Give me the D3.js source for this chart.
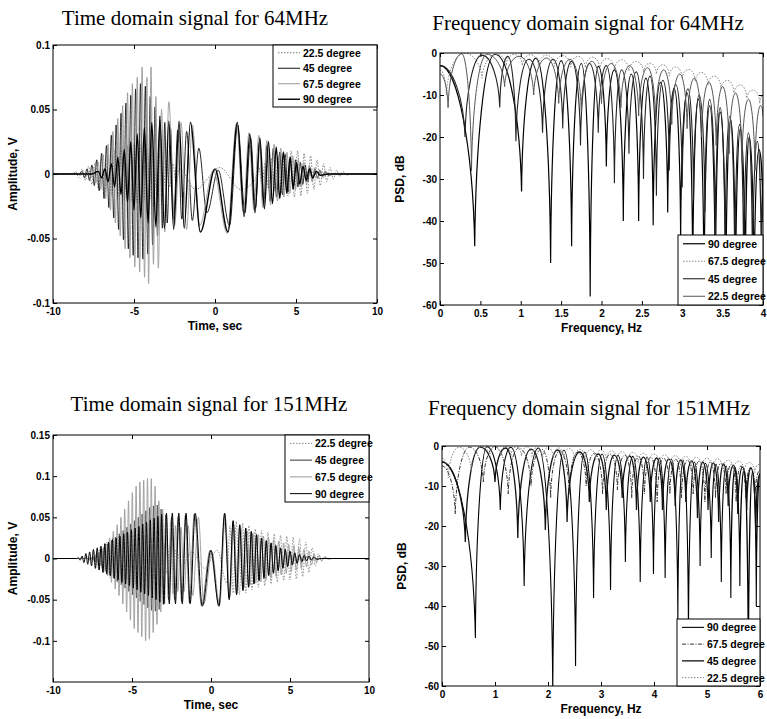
<!DOCTYPE html>
<html>
<head>
<meta charset="utf-8">
<script src="https://cdnjs.cloudflare.com/ajax/libs/d3/7.8.5/d3.min.js"></script>
<style>
  body { margin: 0; background: #fff; }
  svg text { font-family: "Liberation Sans", Arial, sans-serif; }
  .title { font-family: "Liberation Serif", "Times New Roman", serif; font-size: 21px; }
  .tick text { font-weight: bold; font-size: 10px; }
  .axlabel { font-weight: bold; font-size: 12px; }
  .legtext { font-weight: bold; font-size: 10.5px; }
</style>
</head>
<body>
<svg id="chart" width="767" height="719"></svg>
<script>
// ---- tick labels ----
const timeTicks = [-10, -5, 0, 5, 10];
const amp64Ticks = [0.1, 0.05, 0, -0.05, -0.1];
const amp151Ticks = [0.15, 0.1, 0.05, 0, -0.05, -0.1];
const psdTicks = [0, -10, -20, -30, -40, -50, -60];
const freq64Ticks = [0, 0.5, 1, 1.5, 2, 2.5, 3, 3.5, 4];
const freq151Ticks = [0, 1, 2, 3, 4, 5, 6];

// ---- time domain 64MHz: local extrema [t, V] ----
const t22_64 = [[-10,0],[-8.8,0],[-8.6,0.002],[-8.4,-0.003],[-8.2,0.004],[-8.0,-0.005],[-7.8,0.006],[-7.6,-0.008],[-7.4,0.009],[-7.2,-0.011],[-7.0,0.012],[-6.8,-0.014],[-6.6,0.015],[-6.4,-0.017],[-6.2,0.018],[-6.0,-0.019],[-5.8,0.02],[-5.6,-0.021],[-5.4,0.022],[-5.2,-0.022],[-5.0,0.023],[-4.8,-0.022],[-4.6,0.022],[-4.4,-0.021],[-4.2,0.02],[-4.0,-0.019],[-3.8,0.018],[-3.6,-0.016],[-3.4,0.015],[-3.2,-0.013],[-3.0,0.011],[-2.8,-0.01],[-2.6,0.008],[-2.4,-0.007],[-2.2,0.004],[-1.2,-0.012],[0.3,0.005],[1.6,-0.012],[2.5,-0.004],[2.7,0.006],[2.9,-0.008],[3.1,0.009],[3.3,-0.011],[3.5,0.012],[3.7,-0.013],[3.9,0.014],[4.1,-0.015],[4.3,0.016],[4.5,-0.017],[4.7,0.018],[4.9,-0.018],[5.1,0.018],[5.3,-0.017],[5.5,0.016],[5.7,-0.015],[5.9,0.014],[6.1,-0.012],[6.3,0.011],[6.5,-0.009],[6.7,0.008],[6.9,-0.006],[7.1,0.005],[7.3,-0.004],[7.5,0.003],[7.7,-0.002],[7.9,0.002],[8.1,-0.001],[8.4,0],[10,0]];
const t45_64 = [[-10,0],[-8.4,0],[-8.2,0.002],[-8.05,-0.003],[-7.9,0.004],[-7.75,-0.005],[-7.6,0.007],[-7.45,-0.009],[-7.3,0.011],[-7.15,-0.013],[-7.0,0.016],[-6.85,-0.019],[-6.7,0.022],[-6.55,-0.026],[-6.4,0.03],[-6.25,-0.034],[-6.1,0.038],[-5.95,-0.043],[-5.8,0.047],[-5.65,-0.051],[-5.5,0.055],[-5.35,-0.058],[-5.2,0.061],[-5.05,-0.063],[-4.9,0.066],[-4.75,-0.065],[-4.6,0.07],[-4.45,-0.066],[-4.3,0.068],[-4.15,-0.062],[-4.0,0.06],[-3.85,-0.055],[-3.7,0.052],[-3.55,-0.048],[-3.4,0.045],[-3.25,-0.042],[-3.1,0.04],[-2.95,-0.038],[-2.75,0.036],[-2.55,-0.035],[-2.3,0.034],[-2.05,-0.035],[-1.75,0.033],[-1.4,-0.036],[-1.0,0.02],[-0.5,-0.03],[0.2,0.003],[0.9,-0.04],[1.4,0.038],[1.85,-0.03],[2.2,0.028],[2.5,-0.026],[2.75,0.025],[3.0,-0.024],[3.2,0.022],[3.4,-0.021],[3.6,0.02],[3.8,-0.018],[4.0,0.017],[4.17,-0.016],[4.34,0.015],[4.5,-0.014],[4.66,0.013],[4.82,-0.012],[4.97,0.011],[5.12,-0.01],[5.27,0.009],[5.42,-0.008],[5.57,0.007],[5.72,-0.006],[5.87,0.005],[6.02,-0.004],[6.17,0.004],[6.32,-0.003],[6.47,0.003],[6.62,-0.002],[6.8,0.002],[7,-0.001],[7.3,0],[10,0]];
const t67_64 = [[-10,0],[-8.0,0],[-7.8,0.002],[-7.65,-0.003],[-7.5,0.005],[-7.35,-0.007],[-7.2,0.009],[-7.05,-0.012],[-6.9,0.015],[-6.75,-0.019],[-6.6,0.023],[-6.45,-0.028],[-6.3,0.033],[-6.15,-0.038],[-6.0,0.043],[-5.85,-0.048],[-5.7,0.053],[-5.55,-0.058],[-5.4,0.063],[-5.25,-0.065],[-5.1,0.07],[-4.95,-0.072],[-4.8,0.075],[-4.65,-0.076],[-4.5,0.083],[-4.35,-0.08],[-4.2,0.075],[-4.1,-0.085],[-3.95,0.083],[-3.8,-0.07],[-3.65,0.06],[-3.5,-0.073],[-3.3,0.05],[-3.1,-0.045],[-2.85,0.056],[-2.5,-0.04],[-2.1,0.04],[-1.75,-0.043],[-1.4,0.038],[-0.95,-0.04],[-0.1,0.003],[0.75,-0.046],[1.33,0.039],[1.75,-0.03],[2.1,0.032],[2.4,-0.028],[2.7,0.03],[2.95,-0.026],[3.2,0.026],[3.43,-0.024],[3.65,0.023],[3.86,-0.021],[4.06,0.02],[4.25,-0.018],[4.44,0.017],[4.62,-0.015],[4.8,0.014],[4.97,-0.012],[5.14,0.011],[5.31,-0.01],[5.48,0.009],[5.65,-0.008],[5.82,0.007],[5.99,-0.006],[6.16,0.005],[6.33,-0.004],[6.5,0.003],[6.67,-0.003],[6.85,0.002],[7.05,-0.001],[7.4,0],[10,0]];
const t90_64 = [[-10,0],[-7.6,0],[-7.2,0.002],[-7.0,-0.003],[-6.8,0.004],[-6.6,-0.006],[-6.4,0.008],[-6.2,-0.01],[-6.0,0.013],[-5.8,-0.016],[-5.6,0.019],[-5.4,-0.022],[-5.2,0.025],[-5.0,-0.028],[-4.8,0.031],[-4.58,-0.034],[-4.36,0.036],[-4.13,-0.038],[-3.9,0.04],[-3.65,-0.041],[-3.4,0.042],[-3.12,-0.042],[-2.85,0.041],[-2.55,-0.043],[-2.22,0.041],[-1.9,-0.042],[-1.52,0.04],[-0.9,-0.045],[0,0.004],[0.8,-0.045],[1.38,0.04],[1.8,-0.033],[2.15,0.031],[2.47,-0.03],[2.77,0.028],[3.05,-0.027],[3.3,0.025],[3.55,-0.023],[3.78,0.021],[4.0,-0.019],[4.22,0.017],[4.43,-0.015],[4.63,0.013],[4.83,-0.011],[5.03,0.009],[5.23,-0.008],[5.43,0.006],[5.63,-0.005],[5.83,0.004],[6.03,-0.003],[6.25,0.002],[6.5,-0.001],[7,0],[10,0]];

// ---- time domain 151MHz ----
const t22_151 = [[-10,0],[-8.0,0],[-7.8,0.003],[-7.6,-0.005],[-7.4,0.008],[-7.2,-0.011],[-7.0,0.014],[-6.8,-0.017],[-6.6,0.02],[-6.4,-0.023],[-6.2,0.026],[-6.0,-0.028],[-5.8,0.03],[-5.6,-0.031],[-5.4,0.032],[-5.2,-0.032],[-5.0,0.032],[-4.8,-0.031],[-4.6,0.03],[-4.4,-0.029],[-4.2,0.028],[-4.0,-0.027],[-3.8,0.026],[-3.6,-0.025],[-3.4,0.024],[-3.2,-0.022],[-3.0,0.02],[-2.8,-0.018],[-2.6,0.016],[-2.4,-0.014],[-2.2,0.012],[-1.9,-0.01],[-1.2,0.008],[-0.4,-0.012],[0.4,0.01],[1.0,-0.03],[1.2,0.04],[1.4,-0.042],[1.6,0.045],[1.8,-0.044],[2.0,0.043],[2.2,-0.042],[2.4,0.04],[2.6,-0.038],[2.8,0.036],[3.0,-0.035],[3.2,0.034],[3.4,-0.033],[3.6,0.032],[3.8,-0.031],[4.0,0.03],[4.2,-0.029],[4.4,0.028],[4.6,-0.027],[4.8,0.027],[5.0,-0.026],[5.2,0.026],[5.4,-0.025],[5.6,0.024],[5.8,-0.022],[6.0,0.02],[6.2,-0.017],[6.4,0.013],[6.6,-0.009],[6.8,0.006],[7.0,-0.003],[7.2,0.002],[7.5,0],[10,0]];
const t45_151 = [[-10,0],[-7.6,0],[-7.48,0.002],[-7.36,-0.004],[-7.24,0.006],[-7.12,-0.008],[-7.0,0.01],[-6.88,-0.012],[-6.76,0.014],[-6.64,-0.016],[-6.52,0.018],[-6.4,-0.02],[-6.28,0.022],[-6.16,-0.024],[-6.04,0.026],[-5.92,-0.028],[-5.8,0.03],[-5.68,-0.032],[-5.56,0.034],[-5.44,-0.036],[-5.32,0.038],[-5.2,-0.04],[-5.08,0.042],[-4.96,-0.044],[-4.84,0.046],[-4.72,-0.048],[-4.6,0.05],[-4.48,-0.052],[-4.36,0.054],[-4.24,-0.056],[-4.12,0.058],[-4.0,-0.06],[-3.88,0.062],[-3.76,-0.063],[-3.64,0.064],[-3.52,-0.064],[-3.4,0.065],[-3.28,-0.062],[-3.16,0.06],[-3.02,-0.056],[-2.86,0.053],[-2.68,-0.05],[-2.5,0.05],[-2.3,-0.05],[-2.08,0.05],[-1.86,-0.052],[-1.62,0.052],[-1.36,-0.054],[-1.06,0.054],[-0.6,-0.057],[-0.05,0.01],[0.52,-0.057],[0.88,0.054],[1.16,-0.048],[1.4,0.045],[1.62,-0.043],[1.82,0.04],[2.02,-0.038],[2.2,0.036],[2.38,-0.034],[2.55,0.032],[2.72,-0.03],[2.88,0.028],[3.04,-0.026],[3.2,0.024],[3.35,-0.023],[3.5,0.021],[3.65,-0.02],[3.8,0.018],[3.95,-0.017],[4.1,0.015],[4.25,-0.014],[4.4,0.012],[4.55,-0.011],[4.7,0.01],[4.85,-0.009],[5.0,0.008],[5.15,-0.007],[5.3,0.006],[5.45,-0.005],[5.6,0.004],[5.8,-0.003],[6.0,0.002],[6.3,-0.001],[6.8,0],[10,0]];
const t67_151 = [[-10,0],[-7.5,0],[-7.38,0.003],[-7.26,-0.005],[-7.14,0.007],[-7.02,-0.009],[-6.9,0.012],[-6.78,-0.015],[-6.66,0.018],[-6.54,-0.021],[-6.42,0.025],[-6.3,-0.029],[-6.18,0.033],[-6.06,-0.037],[-5.94,0.041],[-5.82,-0.045],[-5.7,0.05],[-5.58,-0.055],[-5.46,0.06],[-5.34,-0.065],[-5.22,0.07],[-5.1,-0.075],[-4.98,0.08],[-4.86,-0.085],[-4.74,0.088],[-4.62,-0.09],[-4.5,0.093],[-4.38,-0.095],[-4.26,0.095],[-4.14,-0.1],[-4.02,0.097],[-3.9,-0.098],[-3.78,0.097],[-3.66,-0.09],[-3.54,0.088],[-3.42,-0.08],[-3.3,0.07],[-3.18,-0.065],[-3.06,0.06],[-2.94,-0.055],[-2.82,0.05],[-2.7,-0.048],[-2.55,0.045],[-2.4,-0.043],[-2.25,0.04],[-2.1,-0.04],[-1.9,0.038],[-1.7,-0.04],[-1.45,0.04],[-1.15,-0.045],[-0.8,0.05],[-0.45,-0.055],[0.05,0.008],[0.55,-0.056],[0.9,0.05],[1.2,-0.045],[1.45,0.04],[1.68,-0.038],[1.9,0.036],[2.1,-0.035],[2.3,0.033],[2.48,-0.032],[2.66,0.031],[2.84,-0.03],[3.0,0.029],[3.16,-0.028],[3.32,0.027],[3.48,-0.026],[3.64,0.025],[3.8,-0.024],[3.96,0.023],[4.12,-0.022],[4.28,0.021],[4.44,-0.02],[4.6,0.019],[4.76,-0.018],[4.92,0.017],[5.08,-0.016],[5.24,0.015],[5.4,-0.014],[5.56,0.013],[5.72,-0.012],[5.88,0.011],[6.04,-0.01],[6.2,0.009],[6.36,-0.008],[6.52,0.006],[6.68,-0.005],[6.84,0.004],[7.0,-0.003],[7.2,0.002],[7.4,-0.001],[7.7,0],[10,0]];
const t90_151 = [[-10,0],[-8.5,0],[-8.4,0.001],[-8.28,-0.002],[-8.16,0.003],[-8.04,-0.005],[-7.92,0.006],[-7.8,-0.007],[-7.68,0.008],[-7.56,-0.009],[-7.44,0.011],[-7.32,-0.012],[-7.2,0.013],[-7.08,-0.014],[-6.96,0.015],[-6.84,-0.017],[-6.72,0.018],[-6.6,-0.019],[-6.48,0.02],[-6.36,-0.021],[-6.24,0.023],[-6.12,-0.024],[-6.0,0.025],[-5.88,-0.026],[-5.76,0.027],[-5.64,-0.029],[-5.52,0.03],[-5.4,-0.031],[-5.28,0.032],[-5.16,-0.033],[-5.04,0.035],[-4.92,-0.036],[-4.8,0.037],[-4.68,-0.038],[-4.56,0.039],[-4.44,-0.041],[-4.32,0.042],[-4.2,-0.043],[-4.08,0.044],[-3.96,-0.045],[-3.84,0.047],[-3.72,-0.048],[-3.6,0.049],[-3.48,-0.05],[-3.36,0.051],[-3.24,-0.053],[-3.12,0.054],[-2.98,-0.055],[-2.82,0.055],[-2.64,-0.055],[-2.45,0.055],[-2.25,-0.055],[-2.04,0.055],[-1.82,-0.055],[-1.58,0.055],[-1.32,-0.055],[-1.0,0.055],[-0.55,-0.058],[0,0.01],[0.5,-0.058],[0.86,0.055],[1.15,-0.05],[1.4,0.046],[1.62,-0.044],[1.82,0.041],[2.02,-0.039],[2.2,0.037],[2.38,-0.035],[2.55,0.033],[2.72,-0.031],[2.88,0.029],[3.04,-0.027],[3.2,0.025],[3.35,-0.024],[3.5,0.022],[3.65,-0.021],[3.8,0.019],[3.95,-0.018],[4.1,0.016],[4.25,-0.015],[4.4,0.013],[4.55,-0.012],[4.7,0.011],[4.85,-0.01],[5.0,0.009],[5.15,-0.008],[5.3,0.007],[5.45,-0.006],[5.6,0.005],[5.75,-0.004],[5.9,0.004],[6.05,-0.003],[6.2,0.003],[6.35,-0.002],[6.5,0.002],[6.7,-0.001],[7,0],[10,0]];

// ---- frequency domain 64MHz: lobe peaks and nulls [Hz, dB] ----
const f90_64 = [[0,-3],[0.43,-46],[0.68,-0.3],[1.01,-33],[1.19,-1.2],[1.37,-50],[1.5,-1.8],[1.63,-46],[1.75,-2.5],[1.86,-58],[1.96,-3.2],[2.06,-27],[2.16,-4],[2.27,-40],[2.37,-5],[2.46,-40],[2.55,-6],[2.64,-41],[2.73,-7],[2.82,-38],[2.9,-8.5],[2.98,-45],[3.06,-9.5],[3.13,-55],[3.2,-11],[3.27,-60],[3.34,-12.5],[3.41,-60],[3.47,-14],[3.54,-60],[3.6,-16],[3.66,-60],[3.72,-18],[3.78,-60],[3.83,-20],[3.89,-60],[3.95,-23],[4,-40]];
const f67_64 = [[0,-4],[0.08,-10],[0.3,0],[0.52,-6],[0.7,-0.3],[0.82,-3],[0.92,-0.3],[1.02,-3],[1.12,-0.4],[1.22,-3],[1.32,-0.5],[1.42,-3.2],[1.52,-0.6],[1.62,-3.3],[1.71,-0.8],[1.8,-3.5],[1.89,-1],[1.98,-3.8],[2.07,-1.3],[2.16,-4],[2.25,-1.6],[2.34,-4.3],[2.43,-2],[2.52,-4.6],[2.6,-2.4],[2.68,-5],[2.76,-2.8],[2.84,-5.5],[2.92,-3.3],[3.0,-6],[3.08,-3.9],[3.16,-6.8],[3.24,-4.6],[3.32,-7.6],[3.4,-5.5],[3.48,-8.5],[3.56,-6.5],[3.64,-9.5],[3.72,-7.6],[3.8,-10.8],[3.88,-8.8],[3.96,-12],[4,-10]];
const f45_64 = [[0,-3],[0.31,-20],[0.52,-0.5],[0.74,-13],[0.84,-0.8],[0.94,-21],[1.1,-1.5],[1.27,-19],[1.4,-1.5],[1.52,-18],[1.63,-2],[1.74,-22],[1.85,-2.5],[1.96,-19],[2.06,-3],[2.16,-31],[2.25,-4],[2.34,-24],[2.43,-4.5],[2.52,-30],[2.6,-5.5],[2.68,-34],[2.76,-6.5],[2.84,-28],[2.92,-7.5],[3.0,-32],[3.07,-8.5],[3.14,-35],[3.21,-10],[3.28,-38],[3.34,-11],[3.41,-45],[3.47,-13],[3.53,-50],[3.59,-15],[3.65,-55],[3.71,-17],[3.76,-55],[3.82,-19],[3.87,-55],[3.93,-21],[3.98,-55],[4,-30]];
const f22_64 = [[0,-5],[0.1,-13],[0.27,-0.2],[0.39,-28],[0.58,-0.3],[0.8,-8],[0.98,-0.8],[1.16,-10],[1.32,-1.2],[1.47,-12],[1.61,-1.5],[1.75,-14],[1.88,-2],[2.0,-12],[2.12,-2.5],[2.24,-13],[2.35,-3],[2.46,-15],[2.57,-3.5],[2.67,-16],[2.77,-4],[2.87,-17],[2.97,-5],[3.06,-18],[3.15,-6],[3.24,-20],[3.33,-7],[3.42,-22],[3.5,-8],[3.58,-24],[3.66,-9.5],[3.74,-26],[3.82,-11],[3.9,-28],[3.97,-12.5],[4,-15]];

// ---- frequency domain 151MHz ----
const f90_151 = [[0,-4],[0.63,-48],[0.85,-0.2],[1.1,-16],[1.3,-0.3],[1.55,-35],[1.82,-0.5],[2.09,-62],[2.3,-1],[2.52,-55],[2.69,-1.5],[2.86,-38],[3.02,-2],[3.18,-36],[3.32,-2.3],[3.46,-29],[3.6,-2.6],[3.74,-34],[3.87,-2.8],[3.99,-32],[4.1,-3],[4.21,-33],[4.33,-3.3],[4.45,-44],[4.55,-3.6],[4.65,-48],[4.76,-4],[4.87,-30],[4.97,-4.3],[5.08,-28],[5.17,-4.6],[5.27,-34],[5.36,-5],[5.45,-38],[5.53,-5.4],[5.62,-35],[5.7,-5.8],[5.78,-62],[5.86,-6.3],[5.93,-40],[6,-7]];
const f67_151 = [[0,-5],[0.25,-17],[0.52,-0.3],[0.78,-9],[1.0,-0.2],[1.25,-12],[1.45,-0.5],[1.68,-10],[1.88,-0.8],[2.05,-13],[2.22,-1.2],[2.4,-12],[2.56,-1.5],[2.72,-10],[2.88,-1.8],[3.03,-12],[3.17,-2],[3.31,-11],[3.45,-2.3],[3.58,-13],[3.7,-2.5],[3.82,-12],[3.94,-2.8],[4.06,-14],[4.18,-3],[4.3,-12],[4.41,-3.3],[4.52,-13],[4.63,-3.5],[4.74,-12],[4.85,-3.8],[4.96,-14],[5.06,-4],[5.16,-13],[5.26,-4.3],[5.36,-12],[5.46,-4.6],[5.55,-14],[5.64,-5],[5.73,-13],[5.82,-5.4],[5.91,-12],[6,-6]];
const f45_151 = [[0,-4],[0.44,-24],[0.72,-0.3],[1.0,-9],[1.2,-0.5],[1.43,-23],[1.68,-0.8],[1.95,-21],[2.18,-1],[2.36,-19],[2.6,-1.5],[2.78,-14],[2.95,-2],[3.1,-16],[3.25,-2.3],[3.4,-13],[3.54,-2.5],[3.67,-16],[3.8,-2.8],[3.93,-14],[4.05,-3],[4.16,-16],[4.28,-3.2],[4.4,-15],[4.5,-3.5],[4.6,-14],[4.71,-3.7],[4.82,-18],[4.92,-4],[5.02,-16],[5.12,-4.2],[5.22,-19],[5.31,-4.5],[5.4,-15],[5.5,-4.8],[5.58,-17],[5.67,-5.2],[5.75,-16],[5.83,-5.5],[5.92,-22],[6,-7]];
const f22_151 = [[0,-3],[0.12,-8],[0.32,-0.3],[0.55,-6],[0.75,-0.2],[0.9,-2.5],[1.0,-0.1],[1.1,-2.5],[1.2,-0.1],[1.3,-2.5],[1.4,-0.2],[1.5,-2.5],[1.6,-0.2],[1.7,-2.6],[1.8,-0.3],[1.9,-2.8],[2.0,-0.4],[2.1,-3],[2.2,-0.5],[2.3,-3],[2.4,-0.6],[2.5,-3.2],[2.6,-0.8],[2.7,-3.3],[2.8,-0.9],[2.9,-3.4],[3.0,-1],[3.1,-3.5],[3.2,-1.2],[3.3,-3.7],[3.4,-1.4],[3.5,-3.9],[3.6,-1.6],[3.7,-4.1],[3.8,-1.8],[3.9,-4.3],[4.0,-2],[4.1,-4.5],[4.2,-2.2],[4.3,-4.7],[4.4,-2.4],[4.5,-5],[4.6,-2.6],[4.7,-5.2],[4.8,-2.8],[4.9,-5.4],[5.0,-3],[5.1,-5.6],[5.2,-3.2],[5.3,-5.8],[5.4,-3.5],[5.5,-6],[5.6,-3.8],[5.7,-6.3],[5.8,-4.1],[5.9,-6.6],[6.0,-4.5]];

const svg = d3.select("#chart");

// spectrum lobes: flat near a peak, steep into a null
function lobePath(data, x, y) {
  const p = d3.path();
  const pts = data.map(d => [x(d[0]), y(d[1])]);
  p.moveTo(pts[0][0], pts[0][1]);
  for (let i = 1; i < pts.length; i++) {
    const [x0, y0] = pts[i - 1], [x1, y1] = pts[i];
    const dx = x1 - x0;
    if (y1 > y0) {
      p.bezierCurveTo(x0 + dx * 0.5, y0, x1 - dx * 0.05, y0 + (y1 - y0) * 0.45, x1, y1);
    } else {
      p.bezierCurveTo(x0 + dx * 0.05, y1 + (y0 - y1) * 0.45, x1 - dx * 0.5, y1, x1, y1);
    }
  }
  return p.toString();
}

function drawPanel(p) {
  const [L, T, R, B] = p.box;
  const x = d3.scaleLinear().domain(p.xDomain).range([L, R]);
  const y = d3.scaleLinear().domain(p.yDomain).range([B, T]);
  const g = svg.append("g");

  g.append("text").attr("class", "title")
    .attr("x", p.titleX).attr("y", p.titleY).attr("text-anchor", "middle").text(p.title);

  g.append("clipPath").attr("id", "clip" + p.id).append("rect")
    .attr("x", L).attr("y", T).attr("width", R - L).attr("height", B - T);
  const plot = g.append("g").attr("clip-path", `url(#clip${p.id})`);

  const line = d3.line().x(d => x(d[0])).y(d => y(d[1])).curve(d3.curveMonotoneX);
  p.series.forEach(s => {
    plot.append("path")
      .attr("d", p.kind === "time" ? line(s.data) : lobePath(s.data, x, y))
      .attr("fill", "none")
      .attr("stroke", s.color)
      .attr("stroke-width", s.width)
      .attr("stroke-dasharray", s.dash || null);
  });

  // axes, ticks pointing inward
  const fmt = d => String(d);
  g.append("g").attr("transform", `translate(0,${B})`)
    .call(d3.axisBottom(x).tickValues(p.xTicks).tickFormat(fmt).tickSizeInner(-4).tickSizeOuter(0).tickPadding(5));
  g.append("g").attr("transform", `translate(0,${T})`)
    .call(d3.axisTop(x).tickValues(p.xTicks).tickFormat("").tickSizeInner(-4).tickSizeOuter(0));
  g.append("g").attr("transform", `translate(${L},0)`)
    .call(d3.axisLeft(y).tickValues(p.yTicks).tickFormat(fmt).tickSizeInner(-4).tickSizeOuter(0).tickPadding(3));
  g.append("g").attr("transform", `translate(${R},0)`)
    .call(d3.axisRight(y).tickValues(p.yTicks).tickFormat("").tickSizeInner(-4).tickSizeOuter(0));
  g.selectAll(".domain").remove();
  g.selectAll(".tick line").attr("stroke", "#000");

  g.append("rect").attr("x", L).attr("y", T).attr("width", R - L).attr("height", B - T)
    .attr("fill", "none").attr("stroke", "#000").attr("stroke-width", 1);

  g.append("text").attr("class", "axlabel")
    .attr("x", (L + R) / 2).attr("y", B + 27).attr("text-anchor", "middle").text(p.xLabel);
  g.append("text").attr("class", "axlabel")
    .attr("transform", `translate(${L - 36},${(T + B) / 2}) rotate(-90)`)
    .attr("text-anchor", "middle").text(p.yLabel);

  // legend
  const [lx0, ly0, lx1, ly1] = p.legend;
  const lg = g.append("g");
  lg.append("rect").attr("x", lx0).attr("y", ly0).attr("width", lx1 - lx0).attr("height", ly1 - ly0)
    .attr("fill", "#fff").attr("stroke", "#000");
  const order = p.legendOrder.map(i => p.series[i]);
  const step = (ly1 - ly0) / order.length;
  order.forEach((s, i) => {
    const yy = ly0 + step * (i + 0.5);
    lg.append("line").attr("x1", lx0 + 5).attr("x2", lx0 + 27).attr("y1", yy).attr("y2", yy)
      .attr("stroke", s.color).attr("stroke-width", Math.max(s.width, 1)).attr("stroke-dasharray", s.dash || null);
    lg.append("text").attr("class", "legtext").attr("x", lx0 + 30).attr("y", yy + 4).text(s.name);
  });
}

drawPanel({
  id: 1, kind: "time", box: [53, 45, 377, 303], xDomain: [-10, 10], yDomain: [-0.1, 0.1],
  xTicks: timeTicks, yTicks: amp64Ticks, title: "Time domain signal for 64MHz", titleX: 195, titleY: 25,
  xLabel: "Time, sec", yLabel: "Amplitude, V", legend: [273, 45, 377, 107], legendOrder: [0, 1, 2, 3],
  series: [
    { name: "22.5 degree", data: t22_64, color: "#777", width: 0.9, dash: "1.5,1.5" },
    { name: "45 degree", data: t45_64, color: "#111", width: 0.9 },
    { name: "67.5 degree", data: t67_64, color: "#999", width: 0.9 },
    { name: "90 degree", data: t90_64, color: "#000", width: 1.4 }
  ]
});

drawPanel({
  id: 2, kind: "freq", box: [440, 53, 763, 305], xDomain: [0, 4], yDomain: [-60, 0],
  xTicks: freq64Ticks, yTicks: psdTicks, title: "Frequency domain signal for 64MHz", titleX: 588, titleY: 30,
  xLabel: "Frequency, Hz", yLabel: "PSD, dB", legend: [678, 235, 763, 305], legendOrder: [0, 1, 2, 3],
  series: [
    { name: "90 degree", data: f90_64, color: "#000", width: 1.2 },
    { name: "67.5 degree", data: f67_64, color: "#888", width: 1, dash: "1.5,1.5" },
    { name: "45 degree", data: f45_64, color: "#222", width: 1.1 },
    { name: "22.5 degree", data: f22_64, color: "#555", width: 1 }
  ]
});

drawPanel({
  id: 3, kind: "time", box: [53, 435, 369, 682], xDomain: [-10, 10], yDomain: [-0.15, 0.15],
  xTicks: timeTicks, yTicks: amp151Ticks, title: "Time domain signal for 151MHz", titleX: 209, titleY: 411,
  xLabel: "Time, sec", yLabel: "Amplitude, V", legend: [285, 435, 369, 502], legendOrder: [0, 1, 2, 3],
  series: [
    { name: "22.5 degree", data: t22_151, color: "#888", width: 0.9, dash: "1.5,1.5" },
    { name: "45 degree", data: t45_151, color: "#333", width: 0.7 },
    { name: "67.5 degree", data: t67_151, color: "#999", width: 0.9 },
    { name: "90 degree", data: t90_151, color: "#000", width: 1.0 }
  ]
});

drawPanel({
  id: 4, kind: "freq", box: [442, 446, 760, 686], xDomain: [0, 6], yDomain: [-60, 0],
  xTicks: freq151Ticks, yTicks: psdTicks, title: "Frequency domain signal for 151MHz", titleX: 589, titleY: 415,
  xLabel: "Frequency, Hz", yLabel: "PSD, dB", legend: [677, 619, 760, 686], legendOrder: [0, 1, 2, 3],
  series: [
    { name: "90 degree", data: f90_151, color: "#000", width: 1.1 },
    { name: "67.5 degree", data: f67_151, color: "#333", width: 1, dash: "4,1.5,1,1.5" },
    { name: "45 degree", data: f45_151, color: "#111", width: 1.3 },
    { name: "22.5 degree", data: f22_151, color: "#888", width: 1, dash: "1.5,1.5" }
  ]
});
</script>
</body>
</html>
